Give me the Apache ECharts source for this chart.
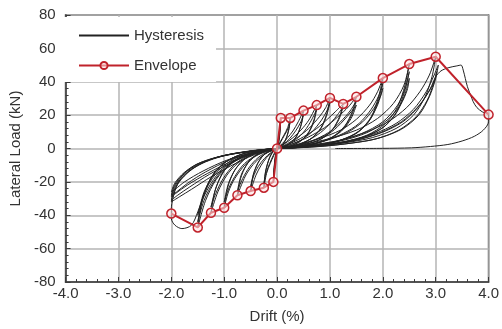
<!DOCTYPE html>
<html>
<head>
<meta charset="utf-8">
<script src="https://cdn.jsdelivr.net/npm/echarts@6/dist/echarts.min.js"></script>
<style>
  html, body { margin: 0; padding: 0; background: #fff; }
  #chart { width: 502px; height: 329px; }
</style>
</head>
<body>
<div id="chart"></div>
<script>
// axis ranges
const xRange = [-4, 4];
const yRange = [-80, 80];

// envelope points (drift %, load kN)
const envDrift = [-2.0, -1.5, -1.25, -1.0, -0.75, -0.5, -0.25, -0.07, 0, 0.07, 0.25, 0.5, 0.75, 1.0, 1.25, 1.5, 2.0, 2.5, 3.0, 4.0];
const envLoad = [-39, -47.3, -38.5, -35.5, -28, -25.5, -23.5, -20, 0, 18.3, 18.3, 22.7, 26, 30.3, 26.7, 31, 42.2, 50.6, 55, 20.3];

// hysteresis, read cycle by cycle
const cyc007 = [[0,0],[0.04,9],[0.07,18.3],[0.05,9],[0.02,2],[0,0],[-0.04,-9],[-0.07,-20],[-0.05,-10],[-0.02,-2],[0,0],
  [0.04,8],[0.07,17],[0.05,8],[0.02,1.5],[0,0],[-0.04,-8],[-0.07,-18],[-0.05,-9],[-0.02,-2],[0,0]];
const cyc025 = [[0.06,4],[0.13,8],[0.2,12.5],[0.25,18.3],[0.22,11],[0.16,5],[0.08,1.5],[0,0],[-0.06,-4],[-0.13,-9],[-0.2,-15],[-0.25,-23.5],[-0.22,-14],[-0.15,-6],[-0.07,-1.5],[0,0],
  [0.07,4],[0.14,8],[0.21,12],[0.25,16.5],[0.21,10],[0.15,4.5],[0.07,1.2],[0,0],[-0.07,-4],[-0.14,-9],[-0.2,-14],[-0.25,-21.5],[-0.21,-13],[-0.14,-5.5],[-0.06,-1.2],[0,0]];
const cyc050 = [[0.1,3],[0.2,6.5],[0.3,10.5],[0.4,16],[0.5,22.7],[0.46,15],[0.38,8],[0.26,3.5],[0.12,1],[0,0],[-0.1,-2.5],[-0.2,-5.5],[-0.3,-10],[-0.4,-16],[-0.5,-25.5],[-0.45,-16],[-0.36,-8.5],[-0.24,-3.5],[-0.1,-1],[0,0],
  [0.12,2.5],[0.24,6],[0.36,11],[0.45,16],[0.5,20.5],[0.45,13.5],[0.36,7],[0.24,3],[0.1,0.8],[0,0],[-0.12,-2.5],[-0.24,-6],[-0.36,-11],[-0.45,-17],[-0.5,-23],[-0.44,-14.5],[-0.34,-7.5],[-0.22,-3],[-0.08,-0.8],[0,0]];
const cyc075 = [[0.15,3],[0.3,6.5],[0.45,11],[0.6,17],[0.75,26],[0.7,17.5],[0.6,10],[0.45,4.5],[0.25,1.5],[0.05,0],[-0.15,-2],[-0.3,-5],[-0.45,-9.5],[-0.6,-16.5],[-0.75,-28],[-0.69,-18],[-0.58,-10],[-0.42,-4.5],[-0.22,-1.5],[0,0],
  [0.18,2],[0.36,5.5],[0.52,10.5],[0.65,17],[0.75,23.5],[0.69,15.5],[0.58,8.5],[0.42,4],[0.22,1.2],[0.04,0],[-0.18,-2],[-0.36,-5.5],[-0.52,-11],[-0.65,-18],[-0.75,-25.5],[-0.68,-16],[-0.56,-9],[-0.4,-4],[-0.2,-1.2],[0,0]];
const cyc100 = [[0.2,3],[0.4,7],[0.6,12],[0.8,19],[0.92,24.5],[1.0,30.3],[0.94,21],[0.83,12.5],[0.65,6],[0.42,2.5],[0.18,0.8],[0,0],[-0.2,-1.8],[-0.4,-4.5],[-0.6,-9.5],[-0.8,-18],[-0.92,-26],[-1.0,-35.5],[-0.93,-23],[-0.8,-13],[-0.6,-6],[-0.36,-2.5],[-0.14,-0.8],[0,0],
  [0.22,1.8],[0.45,5],[0.66,10],[0.84,17],[0.94,22.5],[1.0,27.5],[0.93,19],[0.81,11],[0.62,5.5],[0.4,2.2],[0.16,0.6],[0,0],[-0.22,-1.8],[-0.45,-5],[-0.66,-10.5],[-0.84,-19],[-0.94,-26],[-1.0,-32],[-0.92,-21],[-0.78,-12],[-0.58,-5.5],[-0.34,-2.2],[-0.12,-0.6],[0,0]];
const cyc125 = [[0.25,3],[0.5,7],[0.75,12],[0.95,17.5],[1.1,22],[1.25,26.7],[1.18,19],[1.05,11.5],[0.85,6],[0.55,2.5],[0.25,0.8],[0,0],[-0.25,-1.5],[-0.5,-4],[-0.75,-9],[-0.95,-16],[-1.12,-26],[-1.25,-38.5],[-1.17,-25],[-1.02,-14],[-0.8,-7],[-0.5,-2.8],[-0.2,-0.8],[0,0],
  [0.28,1.5],[0.56,4.5],[0.82,9.5],[1.02,15.5],[1.15,20.5],[1.25,25],[1.17,17.5],[1.03,10.5],[0.82,5.5],[0.52,2.2],[0.22,0.6],[0,0],[-0.28,-1.5],[-0.56,-4.5],[-0.82,-10],[-1.02,-18],[-1.16,-27],[-1.25,-35],[-1.15,-23],[-0.99,-13],[-0.76,-6.5],[-0.46,-2.5],[-0.18,-0.6],[0,0]];
const cyc150 = [[0.3,3],[0.6,7],[0.9,12.5],[1.15,19],[1.35,25],[1.5,31],[1.42,22],[1.28,13.5],[1.05,7],[0.72,3],[0.35,1],[0,0],[-0.3,-1.5],[-0.6,-4.5],[-0.9,-10],[-1.15,-18.5],[-1.35,-31],[-1.5,-47.3],[-1.42,-32],[-1.26,-18],[-1.02,-9],[-0.68,-3.5],[-0.3,-1],[0,0],
  [0.32,1.5],[0.65,4.5],[0.97,9.5],[1.2,16],[1.38,22.5],[1.5,28.5],[1.41,20],[1.25,12],[1.01,6.2],[0.68,2.6],[0.32,0.8],[0,0],[-0.32,-1.5],[-0.65,-5],[-0.97,-11],[-1.2,-20],[-1.38,-31],[-1.5,-44],[-1.4,-29],[-1.22,-16.5],[-0.97,-8],[-0.64,-3.2],[-0.28,-0.8],[0,0],
  [0.35,1.5],[0.7,4.8],[1.03,10],[1.25,16.5],[1.4,22],[1.5,26],[1.4,18],[1.22,10.5],[0.97,5.5],[0.64,2.3],[0.3,0.7],[0,0],[-0.35,-1.7],[-0.7,-5.5],[-1.03,-12],[-1.25,-21],[-1.4,-30],[-1.5,-40],[-1.38,-26],[-1.18,-14.5],[-0.92,-7],[-0.6,-2.8],[-0.25,-0.7],[0,0]];
const cyc200 = [[0.4,2.5],[0.8,6],[1.2,11],[1.5,17.5],[1.75,26],[1.9,34],[2.0,42.2],[1.92,31],[1.78,19],[1.55,10.5],[1.2,5],[0.8,2.2],[0.4,0.8],[0,0],
  [-0.4,-2],[-0.8,-6],[-1.1,-13],[-1.32,-23],[-1.5,-38],[-1.62,-46],[-1.8,-48],[-1.93,-46],[-2.0,-42],[-2.0,-36],[-1.97,-30],[-1.88,-21],[-1.72,-15],[-1.5,-10],[-1.25,-6.5],[-1.0,-4.2],[-0.75,-2.6],[-0.4,-1],[0,0],
  [0.42,1.5],[0.85,4.2],[1.25,9],[1.55,15],[1.78,23.5],[1.92,31.5],[2.0,39],[1.91,28],[1.76,17.5],[1.52,9.5],[1.17,4.5],[0.78,2],[0.38,0.6],[0,0],
  [-0.32,-2.4],[-0.75,-8.4],[-1.25,-17],[-1.62,-24.5],[-1.85,-29],[-2.0,-32],[-1.96,-27],[-1.85,-20],[-1.65,-13.5],[-1.4,-8.5],[-1.1,-5],[-0.75,-2.8],[-0.35,-1],[0,0],
  [0.45,1.5],[0.9,4.5],[1.32,9.5],[1.62,16],[1.83,24],[1.95,31],[2.0,36],[1.9,26],[1.73,16],[1.48,8.8],[1.12,4.2],[0.74,1.8],[0.35,0.5],[0,0]];
const cyc250 = [[0.5,2.5],[1.0,6],[1.5,11],[1.9,18],[2.2,27],[2.4,38],[2.5,50.6],[2.42,38],[2.28,25],[2.05,15],[1.7,8],[1.25,4],[0.75,1.8],[0.3,0.5],[0,0],
  [-0.35,-2],[-0.8,-7.5],[-1.28,-15.5],[-1.65,-23],[-1.88,-28],[-2.0,-31],[-1.95,-25],[-1.83,-18.5],[-1.62,-12.5],[-1.35,-8],[-1.05,-4.8],[-0.7,-2.6],[-0.3,-0.8],[0,0],
  [0.55,1.5],[1.1,4.2],[1.6,9],[2.0,16],[2.28,26],[2.43,37],[2.5,46],[2.41,34],[2.26,22],[2.02,13],[1.65,7],[1.2,3.5],[0.7,1.5],[0.28,0.4],[0,0],
  [-0.38,-2.2],[-0.85,-7.5],[-1.32,-15],[-1.7,-22],[-1.92,-27],[-2.0,-29],[-1.94,-23],[-1.8,-16.5],[-1.58,-11],[-1.3,-7],[-1.0,-4.2],[-0.65,-2.3],[-0.28,-0.7],[0,0],
  [0.6,1.5],[1.2,4.5],[1.7,9.5],[2.08,17],[2.33,26],[2.46,35],[2.5,42],[2.4,31],[2.23,20],[1.98,12],[1.6,6.5],[1.15,3.2],[0.65,1.3],[0.25,0.3],[0,0]];
const cyc300 = [[0.6,2],[1.2,5],[1.7,10],[2.1,16],[2.45,24.5],[2.7,34],[2.88,44],[3.0,55],[2.93,43],[2.8,31],[2.58,20],[2.25,12],[1.8,6.5],[1.3,3.5],[0.8,1.6],[0.35,0.5],[0,0],
  [-0.4,-2],[-0.9,-7],[-1.35,-14],[-1.7,-21],[-1.9,-26],[-2.0,-28],[-1.94,-22],[-1.78,-15.5],[-1.55,-10],[-1.25,-6.2],[-0.9,-3.5],[-0.55,-1.8],[-0.2,-0.5],[0,0],
  [0.65,1.5],[1.3,4.2],[1.85,9],[2.25,15],[2.58,23.5],[2.82,34],[2.97,44],[3.05,50],[3.0,42],[2.88,31],[2.68,20],[2.35,11.5],[1.9,6],[1.4,3.2],[0.9,1.5],[0.4,0.5],[0,0],
  [-0.42,-2.1],[-0.95,-7],[-1.4,-13.5],[-1.75,-20],[-1.93,-24.5],[-2.0,-26],[-1.93,-20.5],[-1.76,-14.5],[-1.52,-9.4],[-1.2,-5.8],[-0.85,-3.2],[-0.5,-1.6],[-0.18,-0.4],[0,0],
  [0.7,1.5],[1.4,4.4],[1.95,9.5],[2.35,16],[2.65,24.5],[2.86,33.5],[2.98,41],[3.02,46],[2.96,39],[2.84,29],[2.63,19],[2.3,11],[1.85,5.6],[1.35,3],[0.85,1.3],[0.38,0.4],[0,0]];
const cyc400 = [[0.75,1.5],[1.45,4.6],[2.0,9.8],[2.4,16.5],[2.7,26],[2.9,36],[3.0,43],[3.1,46.5],[3.25,48.5],[3.4,49.5],[3.48,50],[3.52,47],[3.56,42],[3.6,37],[3.66,32],[3.71,28],[3.78,24.5],[3.88,22],[4.0,20.3],
  [4.0,16],[3.9,11],[3.73,7.3],[3.5,4.5],[3.23,2.4],[2.9,1.2],[2.54,0.4],[2.0,0.1],[1.1,0]];

const hysteresis = [].concat(cyc007, cyc025, cyc050, cyc075, cyc100, cyc125, cyc150, cyc200, cyc250, cyc300, cyc400);

const font = "'Liberation Sans', Arial, sans-serif";
const chart = echarts.init(document.getElementById("chart"));

chart.setOption({
  animation: false,
  textStyle: { fontFamily: font },
  grid: {
    left: 62, right: 11, top: 15, bottom: 46,
    show: true,
    borderColor: "#3a3a3a",
    borderWidth: 1.5,
  },
  legend: {
    orient: "vertical",
    left: 64,
    top: 17,
    padding: [11, 12, 9, 14],
    backgroundColor: "#fff",
    itemWidth: 50,
    itemHeight: 9,
    itemGap: 15,
    textStyle: { fontSize: 15, color: "#333", fontFamily: font },
    data: [
      { name: "Hysteresis", itemStyle: { opacity: 0 } },
      { name: "Envelope" },
    ],
  },
  xAxis: {
    type: "value",
    min: xRange[0],
    max: xRange[1],
    interval: 1,
    name: "Drift (%)",
    nameLocation: "middle",
    nameGap: 27,
    nameTextStyle: { fontSize: 15, color: "#333" },
    axisLine: { onZero: false, lineStyle: { color: "#3a3a3a", width: 1.5 } },
    axisTick: { inside: true, length: 5, lineStyle: { color: "#3a3a3a" } },
    minorTick: { show: true, splitNumber: 5, length: 3, lineStyle: { color: "#3a3a3a" } },
    axisLabel: { fontSize: 15, color: "#333", margin: 4, formatter: (v) => v.toFixed(1) },
    splitLine: { lineStyle: { color: "#b4b4b4", width: 1.5 } },
  },
  yAxis: {
    type: "value",
    min: yRange[0],
    max: yRange[1],
    interval: 20,
    name: "Lateral Load (kN)",
    nameLocation: "middle",
    nameGap: 38,
    nameTextStyle: { fontSize: 15, color: "#333" },
    axisLine: { onZero: false, lineStyle: { color: "#3a3a3a", width: 1.5 } },
    axisTick: { inside: true, length: 5, lineStyle: { color: "#3a3a3a" } },
    minorTick: { show: true, splitNumber: 5, length: 3, lineStyle: { color: "#3a3a3a" } },
    axisLabel: { fontSize: 15, color: "#333", margin: 10 },
    splitLine: { lineStyle: { color: "#b4b4b4", width: 1.5 } },
  },
  series: [
    {
      name: "Hysteresis",
      type: "line",
      data: hysteresis,
      symbol: "none",
      smooth: 0.3,
      z: 2,
      itemStyle: { color: "#222" },
      lineStyle: { color: "#222", width: 1 },
    },
    {
      name: "Envelope",
      type: "line",
      data: envDrift.map((d, i) => [d, envLoad[i]]),
      symbol: "circle",
      symbolSize: 9,
      z: 3,
      itemStyle: { color: "rgba(255,225,225,0.55)", borderColor: "#c0222b", borderWidth: 1.5 },
      lineStyle: { color: "#c0222b", width: 2 },
    },
  ],
});
</script>
</body>
</html>
